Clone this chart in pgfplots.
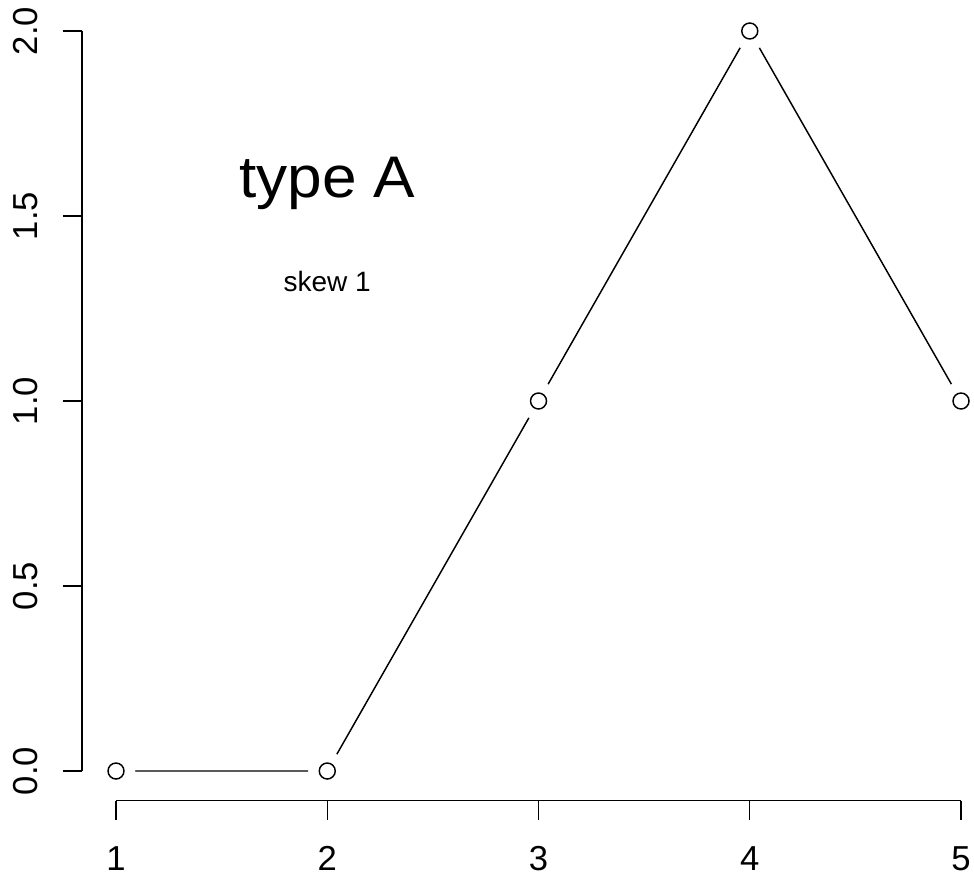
\documentclass[border=0pt]{standalone}
\usepackage{fontspec}
\setmainfont{Liberation Sans}
\usepackage{pgfplots}
\pgfplotsset{compat=1.18}

\begin{document}
\begin{tikzpicture}
  \begin{axis}[
      at={(61.65pt,56.55pt)}, anchor=south west,
      scale only axis,
      width=684.45pt, height=599.4pt,
      xmin=0.84, xmax=5.16,
      ymin=-0.08, ymax=2.08,
      axis x line*=bottom, axis y line*=left,
      x axis line style={draw=none},
      y axis line style={draw=none},
      tick align=outside,
      major tick length=14.6pt,
      tick style={black, line width=1.1pt},
      xtick={1,2,3,4,5},
      ytick={0,0.5,1,1.5,2},
      /pgf/number format/assume math mode=true,
      xticklabel shift=19.5pt,
      yticklabel shift=18.5pt,
      xticklabel style={inner sep=0pt, text depth=0pt},
      yticklabel style={/pgf/number format/fixed, /pgf/number format/fixed zerofill,
        /pgf/number format/precision=1, rotate=90, anchor=south, inner sep=0pt, text depth=0pt},
      ticklabel style={font=\fontsize{26}{31}\selectfont},
      clip=false,
    ]
    % R-style detached axis lines
    \draw[line width=1.1pt] (axis cs:1,-0.08) -- (axis cs:5,-0.08);
    \draw[line width=1.1pt] (axis cs:0.84,0) -- (axis cs:0.84,2);

    \addplot[black, line width=1.1pt, no marks] coordinates {(1,0) (2,0) (3,1) (4,2) (5,1)};
    % gaps around the points, as with type="b"
    \addplot[white, only marks, mark=*, mark size=14.25pt, mark options={draw=white, fill=white}]
      coordinates {(1,0) (2,0) (3,1) (4,2) (5,1)};
    \addplot[black, only marks, mark=o, mark size=6pt, mark options={black, line width=1.1pt}]
      coordinates {(1,0) (2,0) (3,1) (4,2) (5,1)};

    \node[anchor=base, font=\fontsize{44}{52}\selectfont\addfontfeature{FakeStretch=1.06}] at (axis cs:2,1.55) {type A};
    \node[anchor=base, font=\fontsize{21}{25}\selectfont] at (axis cs:2,1.297) {skew 1};
  \end{axis}
  \pgfresetboundingbox
  \useasboundingbox (0,0) rectangle (730.5pt,657pt);
\end{tikzpicture}
\end{document}
